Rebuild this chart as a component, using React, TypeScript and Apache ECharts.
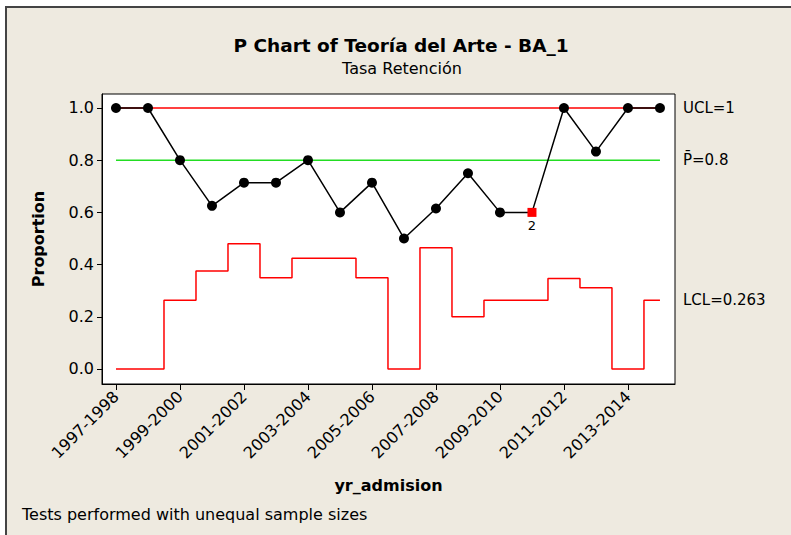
import React, { useEffect, useRef } from "react";
import * as echarts from "echarts";

const categories = [
  "1997-1998", "1998-1999", "1999-2000", "2000-2001", "2001-2002", "2002-2003",
  "2003-2004", "2004-2005", "2005-2006", "2006-2007", "2007-2008", "2008-2009",
  "2009-2010", "2010-2011", "2011-2012", "2012-2013", "2013-2014", "2014-2015",
];
const proportions = [1.0, 1.0, 0.8, 0.625, 0.714, 0.714, 0.8, 0.6, 0.714, 0.5, 0.615, 0.75, 0.6, 0.6, 1.0, 0.833, 1.0, 1.0];
const lcl = [0, 0, 0.263, 0.375, 0.48, 0.35, 0.424, 0.424, 0.35, 0, 0.465, 0.2, 0.263, 0.263, 0.347, 0.311, 0, 0.263];
const uclValue = 1;
const centerValue = 0.8;
const failedTests = [{ index: 13, test: "2" }];
const yTicks = [0, 0.2, 0.4, 0.6, 0.8, 1.0];
const xTickIdx = [0, 2, 4, 6, 8, 10, 12, 14, 16];

const FONT = "DejaVu Sans";

export default function App() {
  const ref = useRef<HTMLDivElement>(null);
  useEffect(() => {
    if (!ref.current) return;
    const chart = echarts.init(ref.current, undefined, { renderer: "svg" });
    const last = categories.length - 1;
    const failedMap: Record<number, string> = {};
    failedTests.forEach((f) => (failedMap[f.index] = f.test));
    const dataPts = proportions.map((v, i) =>
      failedMap[i] !== undefined
        ? {
            value: [i, v],
            symbol: "rect",
            symbolSize: 9,
            itemStyle: { color: "#ff0000" },
            label: {
              show: true,
              position: "bottom",
              distance: 2,
              formatter: failedMap[i],
              fontSize: 13,
              fontFamily: FONT,
              color: "#000",
            },
          }
        : { value: [i, v] }
    );
    chart.setOption({
      animation: false,
      backgroundColor: "transparent",
      textStyle: { fontFamily: FONT },
      grid: {
        left: 102,
        right: 116,
        top: 94,
        bottom: 151,
        show: true,
        backgroundColor: "#ffffff",
        borderColor: "#000",
        borderWidth: 1,
      },
      xAxis: {
        type: "value",
        min: -0.4375,
        max: 17.47,
        name: "yr_admision",
        nameLocation: "middle",
        nameGap: 93,
        nameTextStyle: { fontFamily: FONT, fontWeight: "bold", fontSize: 16, color: "#000" },
        axisLine: { show: true, onZero: false, lineStyle: { color: "#000", width: 1 } },
        axisTick: { show: true, customValues: xTickIdx, length: 6, lineStyle: { color: "#000" } },
        axisLabel: {
          customValues: xTickIdx,
          rotate: 45,
          margin: 10,
          fontSize: 16,
          fontFamily: FONT,
          color: "#000",
          formatter: (v: number) => categories[Math.round(v)] ?? "",
        },
        splitLine: { show: false },
      },
      yAxis: {
        type: "value",
        min: -0.0575,
        max: 1.0536,
        name: "Proportion",
        nameLocation: "middle",
        nameGap: 56,
        nameRotate: 90,
        nameTextStyle: { fontFamily: FONT, fontWeight: "bold", fontSize: 16, color: "#000" },
        axisLine: { show: true, onZero: false, lineStyle: { color: "#000", width: 1 } },
        axisTick: { show: true, customValues: yTicks, length: 5, lineStyle: { color: "#000" } },
        axisLabel: {
          customValues: yTicks,
          margin: 8,
          fontSize: 16,
          fontFamily: FONT,
          color: "#000",
          formatter: (v: number) => v.toFixed(1),
        },
        splitLine: { show: false },
      },
      series: [
        {
          type: "line",
          name: "UCL",
          data: [[0, uclValue], [last, uclValue]],
          showSymbol: false,
          symbol: "none",
          lineStyle: { color: "#ff0000", width: 1.5 },
          endLabel: {
            show: true,
            formatter: "UCL=" + uclValue,
            distance: 23,
            fontSize: 15,
            fontFamily: FONT,
            color: "#000",
          },
          z: 1,
        },
        {
          type: "line",
          name: "P",
          data: [[0, centerValue], [last, centerValue]],
          showSymbol: false,
          symbol: "none",
          lineStyle: { color: "#22dd22", width: 1.5 },
          endLabel: {
            show: true,
            formatter: "P\u0304=" + centerValue,
            distance: 23,
            fontSize: 15,
            fontFamily: FONT,
            color: "#000",
          },
          z: 1,
        },
        {
          type: "line",
          name: "LCL",
          step: "middle",
          data: lcl.map((v, i) => [i, v]),
          showSymbol: false,
          symbol: "none",
          lineStyle: { color: "#ff0000", width: 1.5 },
          endLabel: {
            show: true,
            formatter: "LCL=" + lcl[last],
            distance: 23,
            fontSize: 15,
            fontFamily: FONT,
            color: "#000",
          },
          z: 1,
        },
        {
          type: "line",
          name: "Proportion",
          data: dataPts,
          symbol: "circle",
          symbolSize: 10,
          itemStyle: { color: "#000" },
          lineStyle: { color: "#000", width: 1.5 },
          z: 3,
        },
      ],
      graphic: [
        {
          type: "text",
          x: 401,
          y: 45,
          style: {
            text: "P Chart of Teoría del Arte - BA_1",
            font: `bold 18.5px "${FONT}"`,
            fill: "#000",
            align: "center",
            verticalAlign: "middle",
          },
        },
        {
          type: "text",
          x: 402,
          y: 68,
          style: {
            text: "Tasa Retención",
            font: `16px "${FONT}"`,
            fill: "#000",
            align: "center",
            verticalAlign: "middle",
          },
        },
        {
          type: "text",
          x: 22,
          y: 514,
          style: {
            text: "Tests performed with unequal sample sizes",
            font: `16px "${FONT}"`,
            fill: "#000",
            align: "left",
            verticalAlign: "middle",
          },
        },
      ],
    });
    return () => chart.dispose();
  }, []);
  return (
    <div style={{ position: "fixed", left: 0, top: 0, width: 791, height: 535, background: "#ffffff", overflow: "hidden" }}>
      <div
        style={{
          position: "absolute",
          left: 5,
          top: 6,
          width: 800,
          height: 600,
          background: "#eeeae0",
          border: "2px solid #444",
          boxSizing: "border-box",
        }}
      />
      <div ref={ref} style={{ position: "absolute", left: 0, top: 0, width: 791, height: 535 }} />
    </div>
  );
}
